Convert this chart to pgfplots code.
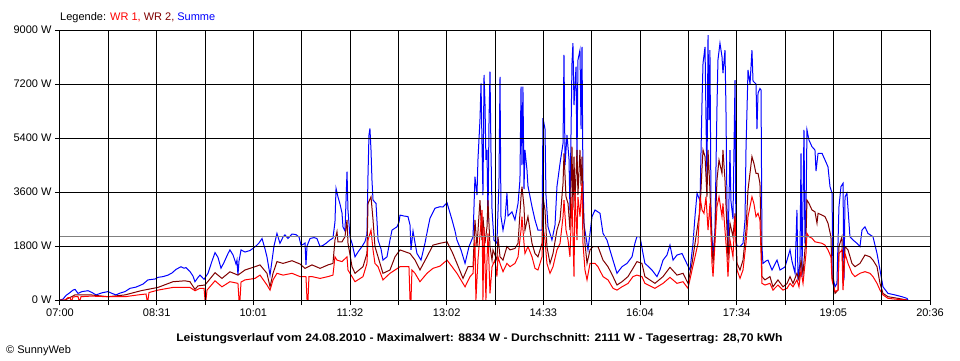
\documentclass[border=0pt]{standalone}
\usepackage{fontspec}
\setmainfont{Liberation Sans}
\usepackage{graphicx}
\usepackage{pgfplots}
\pgfplotsset{compat=1.18}
\definecolor{wrone}{RGB}{255,0,0}
\definecolor{wrtwo}{RGB}{128,0,0}
\definecolor{summe}{RGB}{0,0,255}
\definecolor{avg}{RGB}{128,128,128}
\begin{document}
\begin{tikzpicture}[x=1pt,y=1pt]
\path[use as bounding box] (-60,-60) rectangle (900,300);
\begin{axis}[
  at={(0,0)}, anchor=south west,
  scale only axis, width=870pt, height=270pt,
  xmin=0, xmax=816, ymin=0, ymax=9000,
  axis on top,
  xtick={0,45.333,90.667,136,181.333,226.667,272,317.333,362.667,408,453.333,498.667,544,589.333,634.667,680,725.333,770.667,816},
  xticklabels={07:00,,08:31,,10:01,,11:32,,13:02,,14:33,,16:04,,17:34,,19:05,,20:36},
  ytick={0,1800,3600,5400,7200,9000},
  yticklabels={0 W,1800 W,3600 W,5400 W,7200 W,9000 W},
  xtick pos=bottom, ytick pos=left,
  tick align=outside, major tick length=5pt,
  tick style={black, line width=1pt},
  grid=major, major grid style={black, line width=1pt},
  axis line style={black, line width=1pt},
  tick label style={font=\fontsize{11}{13}\selectfont, black},
  /pgf/number format/assume math mode=true,
]
% Summe (blue)
\addplot[summe, line width=1pt] table {
0 0
2.8 30
5.6 150
9.4 250
12.2 330
14.1 355
16.9 220
20.6 280
26.3 310
30.0 250
33.8 170
39.4 240
45.0 280
48.8 220
52.5 170
56.3 230
61.0 280
65.7 390
71.3 430
77.8 530
82.5 670
89.1 700
91.9 755
96.6 780
101.3 830
105.0 900
108.8 1020
113.5 1110
116.3 1060
118.2 1080
121.9 950
124.7 800
126.6 610
129.4 750
131.3 830
135.1 690
138.8 890
142.6 1300
145.4 1580
148.2 1420
151.0 1060
153.8 1250
157.6 1550
159.4 1670
162.3 1500
165.1 1200
166.0 1330
166.9 830
167.9 1300
169.8 1670
173.5 1600
178.2 1650
181.0 1720
183.8 1800
186.6 1900
189.5 2050
192.3 1700
194.1 1440
197.0 830
198.8 1300
200.7 1800
203.5 2220
206.3 1890
209.2 2100
211.0 2170
213.8 2050
217.6 2200
221.3 2180
224.2 2100
226.0 1830
227.9 1850
229.8 1900
230.7 1170
231.7 1800
234.5 2050
238.2 2080
241.0 2050
243.9 1780
246.7 1820
249.5 1890
253.2 2000
256.0 2060
257.9 2600
258.9 3720
260.7 3440
262.6 3200
264.5 2900
265.4 2440
267.3 2300
269.2 4280
270.1 3000
272.0 2100
273.9 1890
276.7 1440
279.5 1600
283.2 1780
286.1 1950
287.9 2200
288.9 4200
289.8 5500
290.7 5720
291.7 5000
292.6 4000
293.6 3330
296.4 3220
298.3 2000
301.1 1700
302.9 1330
306.7 1440
309.5 2000
311.4 2330
316.1 2440
318.0 2600
318.9 2830
322.6 2800
326.4 2780
328.3 2500
329.2 1670
331.1 2300
333.0 1900
334.8 1550
338.6 1330
342.3 1890
345.1 2400
347.0 2720
351.7 3060
356.4 3110
359.2 3100
363.0 3240
365.8 2900
367.7 2670
370.5 2300
372.3 2000
376.1 1670
379.9 1220
383.6 1780
387.4 2110
389.2 4110
391.1 3500
392.0 4670
393.9 6000
394.9 7220
395.8 5200
396.7 3500
397.7 7500
398.6 6560
399.5 4670
400.5 5000
401.4 2600
402.4 6000
403.3 7610
404.2 5000
405.2 3000
407.0 2000
409.8 1890
411.7 3890
412.7 7440
413.6 2780
415.5 2330
417.4 2700
419.2 3560
420.2 2800
423.9 2940
426.7 2670
429.6 3220
431.4 4000
432.4 7110
433.3 4500
434.2 7110
435.2 3700
436.1 5000
438.0 4330
438.9 3800
442.7 3110
445.5 2670
448.3 2330
452.1 2330
453.0 6060
454.9 5700
455.8 3500
457.7 2440
461.4 2000
464.3 2500
466.1 3780
469.0 4560
471.8 5220
472.7 8170
473.7 4500
475.5 5500
477.4 4700
478.3 3000
480.2 7890
481.1 8560
482.1 6500
484.0 7780
484.9 4500
485.8 8000
487.7 8330
488.7 5700
489.6 8440
490.5 4000
491.5 2500
493.3 2110
495.2 1670
499.0 2780
501.8 3000
506.5 2890
509.3 2220
513.0 2000
517.7 1440
522.4 890
527.1 1110
531.8 1220
536.5 1440
539.3 1900
541.1 2110
544.0 2110
546.8 1550
548.6 1220
552.4 1100
555.2 1000
559.9 780
562.7 1000
565.6 1330
569.3 1500
572.1 1830
575.0 1330
578.7 1500
583.4 1550
588.1 1200
590.9 1000
593.7 1890
595.6 2800
597.5 3560
600.3 3300
602.2 6670
603.1 7890
605.0 8440
605.9 6000
606.8 4000
607.8 8830
608.7 6000
609.6 8330
610.6 3000
611.5 2100
612.5 1500
614.3 2300
615.3 4500
616.2 6440
617.1 8000
619.0 8560
620.9 8110
621.8 7560
623.7 8330
624.6 6440
625.6 3000
626.5 1670
628.4 5000
629.3 3300
631.2 2700
633.1 7330
634.0 2000
635.0 1800
637.8 1780
640.6 1890
642.5 2670
643.4 5000
645.3 7670
647.2 7200
649.0 8330
650.0 7300
652.8 7200
653.7 5700
654.7 6900
656.5 7050
657.5 7000
658.4 1780
659.3 1220
662.2 1300
664.0 1330
667.8 1000
670.6 1200
672.5 1330
675.3 1000
680.0 1100
682.8 1440
684.7 1670
686.5 1300
689.4 890
691.2 3000
692.2 660
694.0 1230
695.0 4890
695.9 770
697.8 5670
698.7 1890
699.7 3000
700.6 5670
702.5 5330
705.3 5110
708.1 5000
709.1 4300
711.0 4890
714.7 4890
717.5 4670
720.3 4440
722.2 3780
724.1 3560
725.0 770
726.9 440
728.7 550
730.6 3110
732.5 3780
734.4 3890
735.3 660
736.3 3440
738.1 3560
740.9 2110
743.8 2000
747.5 1890
750.3 1780
752.2 2330
755.0 2440
757.8 2220
762.5 2110
766.3 1550
769.1 1000
771.9 440
776.6 220
783.1 170
789.7 110
794.4 55
795.3 0
};
% WR 2 (dark red)
\addplot[wrtwo, line width=1pt] table {
0 0
4.7 0
14.1 170
29.1 170
45.0 110
61.0 170
76.0 310
82.5 355
91.9 420
106.0 610
117.2 640
121.9 610
126.6 355
129.4 470
136.0 500
145.4 910
151.9 720
159.4 940
166.9 830
173.5 1000
182.9 1110
187.6 1170
194.1 890
197.0 440
199.8 890
203.5 1280
209.2 1220
217.6 1310
225.1 1200
229.8 1055
236.4 1170
243.9 1055
251.4 1170
256.0 1220
257.9 2000
259.8 2280
260.7 1940
264.5 1940
267.3 2110
269.2 2670
270.1 1900
273.9 1110
276.7 890
284.2 1110
287.9 1550
288.9 3220
291.7 3440
293.6 2670
295.4 1780
298.3 1440
302.9 890
309.5 1000
314.2 1440
318.9 1670
328.3 1550
333.0 1330
337.6 1000
344.2 1440
349.8 1830
356.4 1890
363.0 1940
367.7 1610
372.3 1220
378.0 720
382.7 1110
387.4 1110
389.2 2670
391.1 1780
393.9 3330
395.8 2000
396.7 2780
398.6 1890
400.5 2440
401.4 3330
403.3 1780
405.2 1330
406.1 1670
409.8 1330
410.8 2110
412.7 1440
415.5 1330
419.2 1780
422.1 1670
426.7 1720
429.6 1890
432.4 3440
433.3 3780
435.2 3110
436.1 2330
438.9 2780
442.7 1890
445.5 1550
448.3 1440
452.1 1890
453.0 3440
454.9 3000
456.7 1780
459.6 1220
462.4 1550
466.1 2330
469.0 2670
471.8 3890
472.7 4890
474.6 3440
476.5 3220
478.3 2330
480.2 5110
481.1 3000
482.1 4780
483.0 3300
484.9 5000
485.8 3500
487.7 5000
488.7 3800
489.6 4780
490.5 3220
492.4 1890
494.3 1220
497.1 1670
499.9 1780
504.6 1780
509.3 1330
514.0 1110
518.7 780
522.4 500
527.1 610
532.7 780
537.4 1055
541.1 1280
545.8 1220
548.6 780
558.0 555
565.6 780
572.1 1090
578.7 830
584.3 890
589.0 555
592.8 1220
595.6 1890
598.4 2560
600.3 3000
602.2 4440
603.1 5000
605.0 4780
606.8 3440
607.8 5000
609.6 3670
611.5 1780
612.5 1220
614.3 2110
616.2 4000
618.1 4670
620.9 4220
621.8 5000
623.7 4000
625.6 2330
626.5 1330
628.4 2560
631.2 2110
633.1 2890
635.0 1220
637.8 1000
640.6 1330
643.4 2330
645.3 3670
649.0 4780
650.8 4560
652.8 4220
654.7 4220
656.5 3890
658.4 780
661.2 670
665.9 780
668.7 440
673.4 670
678.1 440
681.9 550
684.7 780
687.5 550
691.2 890
693.1 670
695.0 1330
696.9 890
699.7 2110
700.6 3330
702.5 3220
705.3 3000
708.1 2940
710.0 2560
711.0 2890
714.7 2830
717.5 2780
720.3 2560
723.1 2110
724.1 780
726.9 220
729.7 330
730.6 1780
733.4 2110
734.4 550
736.3 1780
739.1 1670
742.8 1220
745.6 1110
750.3 1220
755.0 1500
759.7 1440
762.5 1330
766.3 1110
769.1 555
771.9 220
776.6 110
786.0 55
794.4 0
};
% WR 1 (red)
\addplot[wrone, line width=1pt] table {
0 0
4.7 0
7.5 80
9.4 80
10.3 0
11.3 0
12.2 100
14.1 110
16.9 110
17.8 0
18.8 0
19.7 110
29.1 130
45.0 110
61.0 110
73.2 170
80.7 200
81.6 0
82.5 0
83.5 250
91.9 330
106.0 420
117.2 420
121.9 420
126.6 310
131.3 390
135.1 390
136.0 0
136.9 0
137.9 330
145.4 640
151.9 440
159.4 610
166.9 555
167.9 0
168.8 0
169.8 600
173.5 670
182.9 720
187.6 830
194.1 500
197.0 330
199.8 670
203.5 890
209.2 830
217.6 890
225.1 780
230.7 780
231.7 0
232.6 0
233.5 780
236.4 780
243.9 720
251.4 780
256.0 830
257.9 1440
259.8 1330
264.5 1280
269.2 1440
270.1 1000
273.9 780
276.7 610
284.2 780
287.9 1220
288.9 2000
291.7 2330
293.6 1670
295.4 1220
298.3 1110
302.9 670
309.5 890
314.2 1000
318.9 1110
327.3 1110
328.3 0
329.2 0
330.1 1000
333.0 890
337.6 610
344.2 890
349.8 1055
356.4 1130
363.0 1330
367.7 1110
372.3 890
379.9 440
384.6 780
387.4 890
389.2 2000
390.1 0
392.0 1330
395.8 3000
396.7 0
397.7 2440
399.5 0
400.5 1330
401.4 2220
403.3 220
405.2 1110
407.9 1330
409.8 780
410.8 1440
412.7 1220
415.5 945
419.2 1220
422.1 1110
426.7 1220
429.6 1440
432.4 2330
433.3 2780
435.2 1890
436.1 1550
438.9 1780
442.7 1440
445.5 1055
448.3 1000
452.1 1440
453.0 2440
454.9 2000
456.7 1220
459.6 890
462.4 1110
466.1 1670
469.0 1890
471.8 2780
472.7 3330
474.6 2330
476.5 2000
478.3 1440
480.2 3440
482.1 780
483.0 3670
484.9 2000
485.8 3440
487.7 2780
489.6 3890
490.5 1890
492.4 1000
494.3 670
497.1 1220
501.8 1220
504.6 1110
509.3 780
514.0 670
518.7 390
522.4 330
527.1 440
532.7 550
537.4 780
541.1 830
545.8 780
548.6 555
558.0 390
565.6 555
572.1 755
578.7 555
584.3 610
589.0 390
592.8 1000
595.6 1440
598.4 1890
600.3 3440
602.2 3000
604.0 2890
605.9 3440
607.8 2330
609.6 3220
611.5 1220
612.5 780
614.3 1890
616.2 3110
618.1 3440
620.9 2780
621.8 3220
623.7 2330
625.6 1440
626.5 780
628.4 2000
631.2 1440
633.1 2780
635.0 1000
637.8 720
640.6 1000
643.4 1890
645.3 2780
649.0 3440
650.8 3220
652.8 2780
654.7 2890
656.5 2670
658.4 555
661.2 500
665.9 555
668.7 330
673.4 500
678.1 330
681.9 390
684.7 555
687.5 440
691.2 670
693.1 440
695.0 1000
696.9 555
699.7 1550
700.6 2220
702.5 2110
705.3 2060
708.1 1940
714.7 1890
717.5 1830
720.3 1670
723.1 1440
724.1 670
726.9 280
729.7 330
730.6 1550
733.4 1670
734.4 330
736.3 1550
739.1 1220
742.8 890
745.6 780
750.3 890
755.0 945
759.7 890
762.5 780
766.3 555
769.1 330
771.9 170
776.6 55
786.0 20
794.4 0
};
% average line
\addplot[avg, line width=1pt] coordinates {(0,2111) (816,2111)};
\end{axis}
\node[anchor=base west, inner sep=0, font=\fontsize{11}{13}\selectfont] at (0,280)
  {Legende: \textcolor{wrone}{WR 1,} \textcolor{wrtwo}{WR 2,} \textcolor{summe}{Summe}};
\node[anchor=base, inner sep=0, font=\fontsize{11}{13}\selectfont\bfseries] at (419.5,-41)
  {\scalebox{1.105}[1]{Leistungsverlauf vom 24.08.2010 - Maximalwert: 8834 W - Durchschnitt: 2111 W - Tagesertrag: 28,70 kWh}};
\node[anchor=base west, inner sep=0, font=\fontsize{11}{13}\selectfont] at (-54,-53) {© SunnyWeb};
\end{tikzpicture}
\end{document}
